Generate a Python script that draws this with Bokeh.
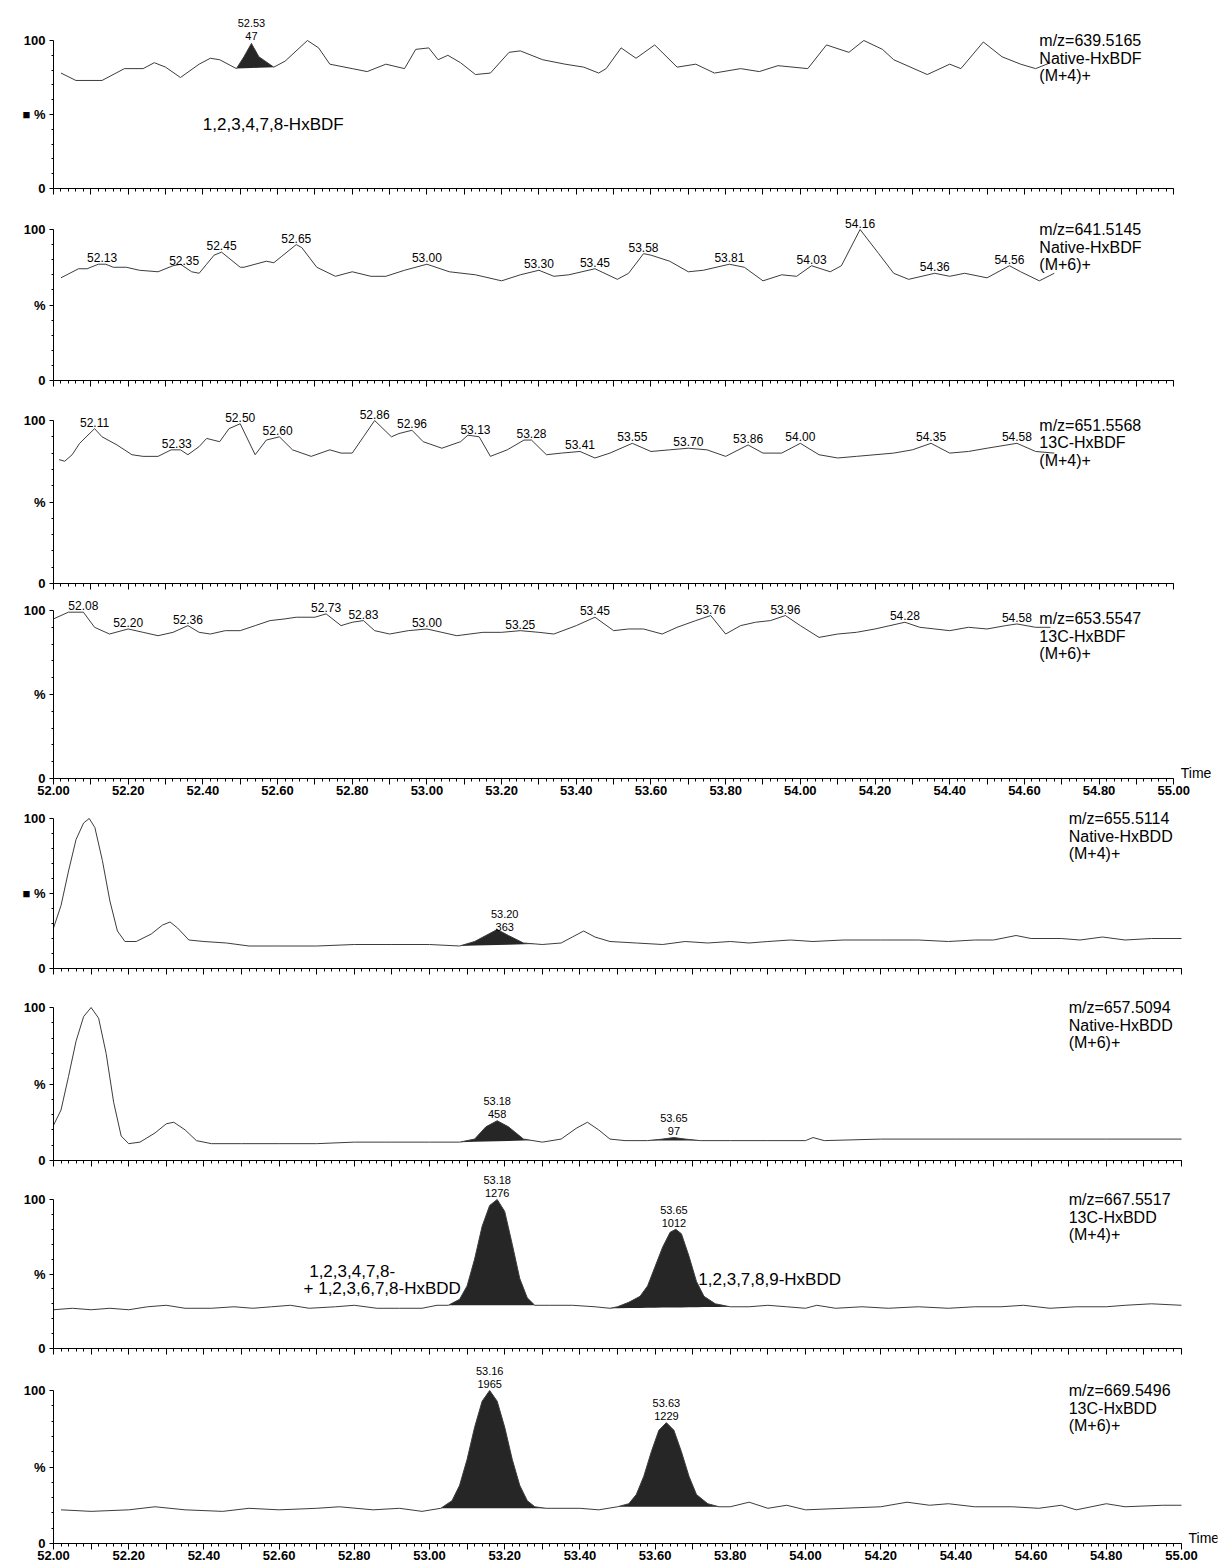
import numpy as np
from bokeh.plotting import figure
from bokeh.layouts import column
from bokeh.models import Range1d, FixedTicker, CustomJSTickFormatter
from bokeh.core.properties import value
from bokeh.embed import file_html
from bokeh.resources import INLINE

FONT = "Liberation Sans"

# ---------------- data ----------------
P1_t = [52.02, 52.06, 52.13, 52.19, 52.24, 52.27, 52.30, 52.34, 52.39, 52.42, 52.445, 52.49, 52.51, 52.53, 52.55, 52.59,
        52.62, 52.68, 52.71, 52.74, 52.80, 52.84, 52.89, 52.94, 52.97, 53.005, 53.03, 53.056, 53.09, 53.13, 53.17, 53.22,
        53.25, 53.31, 53.37, 53.42, 53.46, 53.48, 53.52, 53.56, 53.61, 53.67, 53.72, 53.77, 53.84, 53.89, 53.94, 54.02,
        54.07, 54.13, 54.17, 54.22, 54.25, 54.34, 54.40, 54.43, 54.49, 54.54, 54.59, 54.63, 54.67]
P1_v = [78, 73, 73, 81, 81, 85, 82, 75, 84, 88, 87, 81, 89, 98, 89, 82, 86, 100, 95, 84, 81, 79, 84, 81, 94, 95, 87, 90,
        85, 77, 78, 92, 93, 87, 84, 82, 78, 81, 95, 88, 97, 82, 84, 78, 81, 79, 83, 81, 97, 92, 100, 94, 87, 77, 84, 81,
        99, 89, 84, 81, 85]
P1_peaks = [52.53]
P1_areas = [47]

P2_t = [52.02, 52.067, 52.09, 52.12, 52.14, 52.16, 52.195, 52.23, 52.28, 52.32,
        52.34, 52.37, 52.39, 52.41, 52.43, 52.45, 52.50, 52.51, 52.57, 52.59,
        52.61, 52.65, 52.665, 52.705, 52.755, 52.80, 52.85, 52.89, 52.94, 53.00,
        53.06, 53.13, 53.20, 53.25, 53.30, 53.34, 53.38, 53.45, 53.51, 53.54,
        53.58, 53.60, 53.65, 53.70, 53.74, 53.81, 53.85, 53.90, 53.95, 53.99,
        54.03, 54.08, 54.11, 54.16, 54.21, 54.25, 54.29, 54.36, 54.40, 54.44,
        54.50, 54.56, 54.59, 54.64, 54.68]
P2_v = [68, 74, 74, 77, 77, 75, 75, 73, 72, 76,
        77, 72, 71, 77, 83, 85, 75, 75, 79, 78,
        82, 90, 88, 75, 69, 72, 69, 69, 73, 77,
        72, 70, 66, 70, 73, 69, 70, 74, 67, 71,
        84, 83, 79, 72, 73, 77, 75, 66, 70, 69,
        76, 72, 76, 100, 84, 71, 67, 71, 69, 71,
        68, 76, 72, 66, 71]
P2_peaks = [52.13, 52.35, 52.45, 52.65, 53.00, 53.30, 53.45, 53.58, 53.81, 54.03, 54.16, 54.36, 54.56]

P3_t = [52.015, 52.03, 52.05, 52.07, 52.11, 52.13, 52.17, 52.21, 52.24, 52.28,
        52.315, 52.34, 52.36, 52.39, 52.41, 52.445, 52.47, 52.50, 52.54, 52.57,
        52.605, 52.64, 52.69, 52.74, 52.77, 52.80, 52.83, 52.86, 52.905, 52.925,
        52.96, 52.99, 53.04, 53.09, 53.11, 53.14, 53.17, 53.215, 53.26, 53.28,
        53.32, 53.36, 53.41, 53.45, 53.49, 53.55, 53.60, 53.65, 53.70, 53.75,
        53.80, 53.86, 53.90, 53.95, 54.00, 54.05, 54.10, 54.15, 54.20, 54.25,
        54.30, 54.35, 54.40, 54.45, 54.50, 54.58, 54.63, 54.68]
P3_v = [76, 75, 79, 86, 95, 90, 85, 79, 78, 78,
        82, 82, 79, 84, 89, 87, 95, 98, 79, 88,
        90, 82, 78, 82, 80, 80, 90, 100, 90, 92,
        94, 87, 83, 87, 91, 90, 78, 82, 88, 88,
        79, 80, 81, 77, 80, 86, 81, 82, 83, 82,
        78, 85, 80, 80, 86, 79, 77, 78, 79, 80,
        82, 86, 80, 81, 83, 86, 81, 80]
P3_peaks = [52.11, 52.33, 52.50, 52.60, 52.86, 52.96, 53.13, 53.28, 53.41, 53.55, 53.70, 53.86, 54.00, 54.35, 54.58]

P4_t = [52.00, 52.04, 52.08, 52.11, 52.15, 52.20, 52.24, 52.28, 52.32, 52.36,
        52.39, 52.42, 52.46, 52.50, 52.54, 52.58, 52.62, 52.65, 52.70, 52.73,
        52.77, 52.80, 52.83, 52.86, 52.90, 52.95, 53.00, 53.04, 53.08, 53.15,
        53.20, 53.25, 53.30, 53.34, 53.40, 53.45, 53.50, 53.54, 53.58, 53.63,
        53.67, 53.72, 53.76, 53.80, 53.84, 53.88, 53.92, 53.96, 54.00, 54.05,
        54.10, 54.15, 54.20, 54.24, 54.28, 54.32, 54.36, 54.40, 54.45, 54.50,
        54.55, 54.58, 54.63, 54.67]
P4_v = [95, 99, 99, 90, 86, 89, 87, 85, 87, 91,
        87, 86, 88, 88, 91, 94, 95, 96, 96, 98,
        91, 93, 94, 88, 86, 88, 89, 87, 85, 87,
        87, 88, 87, 86, 91, 96, 88, 89, 89, 86,
        90, 94, 97, 86, 91, 93, 94, 97, 91, 84,
        86, 87, 89, 91, 93, 90, 89, 88, 90, 89,
        91, 92, 90, 90]
P4_peaks = [52.08, 52.20, 52.36, 52.73, 52.83, 53.00, 53.25, 53.45, 53.76, 53.96, 54.28, 54.58]

P5_t = [52.00, 52.02, 52.04, 52.06, 52.08, 52.095, 52.11, 52.13, 52.15, 52.17, 52.19, 52.22, 52.26, 52.29, 52.31,
        52.33, 52.36, 52.40, 52.46, 52.52, 52.60, 52.70, 52.80, 52.90, 53.00, 53.08, 53.12, 53.15, 53.18, 53.21,
        53.25, 53.30, 53.35, 53.38, 53.41, 53.44, 53.48, 53.55, 53.62, 53.68, 53.74, 53.80, 53.85, 53.90, 53.96,
        54.02, 54.10, 54.20, 54.30, 54.38, 54.45, 54.50, 54.56, 54.60, 54.68, 54.73, 54.79, 54.85, 54.92, 55.00]
P5_v = [27, 42, 65, 86, 97, 100, 94, 72, 45, 25, 18, 18, 23, 29, 31,
        27, 19, 18, 17, 15, 15, 15, 16, 16, 16, 15, 18, 22, 26, 22,
        17, 16, 17, 21, 25, 21, 18, 17, 16, 18, 17, 18, 17, 18, 19,
        18, 19, 19, 19, 18, 19, 19, 22, 20, 20, 19, 21, 19, 20, 20]
P5_peaks = [53.20]
P5_areas = [363]

P6_t = [52.00, 52.02, 52.04, 52.06, 52.08, 52.10, 52.12, 52.14, 52.16, 52.18,
        52.20, 52.23, 52.27, 52.30, 52.32, 52.35, 52.38, 52.42, 52.50, 52.60,
        52.70, 52.80, 52.90, 53.00, 53.08, 53.12, 53.15, 53.18, 53.21, 53.25,
        53.30, 53.35, 53.39, 53.42, 53.45, 53.48, 53.52, 53.58, 53.62, 53.65,
        53.68, 53.72, 53.80, 53.90, 54.00, 54.02, 54.05, 54.20, 54.40, 54.60,
        54.80, 55.00]
P6_v = [23, 33, 55, 78, 94, 100, 93, 70, 38, 16,
        11, 12, 18, 24, 25, 20, 13, 11, 11, 11,
        11, 12, 12, 12, 12, 14, 22, 26, 22, 14,
        12, 14, 21, 25, 20, 14, 13, 13, 14, 15,
        14, 13, 13, 13, 13, 15, 13, 14, 14, 14,
        14, 14]
P6_peaks = [53.18, 53.65]
P6_areas = [458, 97]

P7_t = [52.00, 52.05, 52.10, 52.15, 52.20, 52.25, 52.30, 52.35, 52.42, 52.48,
        52.53, 52.58, 52.63, 52.68, 52.75, 52.80, 52.86, 52.92, 52.98, 53.02,
        53.05, 53.08, 53.10, 53.12, 53.14, 53.16, 53.18, 53.20, 53.22, 53.24,
        53.26, 53.28, 53.32, 53.38, 53.44, 53.48, 53.50, 53.53, 53.56, 53.58,
        53.60, 53.62, 53.64, 53.655, 53.67, 53.69, 53.71, 53.73, 53.76, 53.80,
        53.85, 53.90, 53.95, 54.00, 54.03, 54.08, 54.15, 54.22, 54.30, 54.38,
        54.45, 54.52, 54.58, 54.65, 54.72, 54.80, 54.85, 54.92, 55.00]
P7_v = [26, 27, 26, 27, 26, 28, 29, 27, 27, 28,
        27, 28, 29, 27, 28, 29, 27, 27, 27, 29,
        29, 33, 42, 60, 82, 96, 100, 92, 70, 47,
        34, 29, 29, 29, 28, 27, 28, 31, 35, 42,
        55, 68, 78, 80, 77, 62, 45, 35, 30, 28,
        28, 29, 28, 27, 29, 27, 28, 27, 28, 27,
        28, 28, 29, 27, 28, 28, 29, 30, 29]
P7_peaks = [53.18, 53.65]
P7_areas = [1276, 1012]

P8_t = [52.02, 52.10, 52.20, 52.27, 52.35, 52.45, 52.52, 52.60, 52.70, 52.76,
        52.85, 52.92, 52.98, 53.03, 53.06, 53.08, 53.10, 53.12, 53.14, 53.16,
        53.18, 53.20, 53.22, 53.24, 53.26, 53.28, 53.31, 53.40, 53.45, 53.50,
        53.53, 53.55, 53.57, 53.59, 53.61, 53.63, 53.65, 53.67, 53.69, 53.71,
        53.74, 53.77, 53.80, 53.85, 53.90, 53.95, 54.00, 54.10, 54.20, 54.27,
        54.33, 54.38, 54.45, 54.55, 54.62, 54.68, 54.72, 54.80, 54.85, 54.95,
        55.00]
P8_v = [22, 21, 22, 24, 22, 21, 23, 22, 23, 24,
        22, 23, 21, 23, 28, 38, 55, 76, 93, 100,
        93, 76, 55, 38, 28, 24, 23, 23, 22, 24,
        26, 32, 44, 60, 74, 79, 74, 60, 44, 32,
        26, 24, 24, 27, 23, 25, 22, 23, 24, 27,
        25, 26, 24, 24, 23, 25, 22, 26, 24, 25,
        25]
P8_peaks = [53.16, 53.63]
P8_areas = [1965, 1229]

CHANNELS = [
    ["m/z=639.5165", "Native-HxBDF", "(M+4)+"],
    ["m/z=641.5145", "Native-HxBDF", "(M+6)+"],
    ["m/z=651.5568", "13C-HxBDF", "(M+4)+"],
    ["m/z=653.5547", "13C-HxBDF", "(M+6)+"],
    ["m/z=655.5114", "Native-HxBDD", "(M+4)+"],
    ["m/z=657.5094", "Native-HxBDD", "(M+6)+"],
    ["m/z=667.5517", "13C-HxBDD", "(M+4)+"],
    ["m/z=669.5496", "13C-HxBDD", "(M+6)+"],
]

# integrated (filled) peak windows
P1_fill = [(52.49, 52.59)]
P5_fill = [(53.08, 53.28)]
P6_fill = [(53.08, 53.27), (53.58, 53.72)]
P7_fill = [(53.05, 53.28), (53.48, 53.80)]
P8_fill = [(53.03, 53.31), (53.50, 53.77)]

# compound names
P1_names = [(52.40, 43, "1,2,3,4,7,8-HxBDF")]
P7_names = [(52.68, 52, "1,2,3,4,7,8-"), (52.665, 40, "+ 1,2,3,6,7,8-HxBDD"), (53.715, 46, "1,2,3,7,8,9-HxBDD")]

# ---------------- layout config ----------------
panels = [
    dict(t=P1_t, v=P1_v, peaks=[], two=(P1_peaks, P1_areas), fills=P1_fill, names=P1_names, grp=0,
         h=200, top=10, bot=12, ppu=1.48, xlab=False, pct="■ %", ly=100),
    dict(t=P2_t, v=P2_v, peaks=P2_peaks, two=None, fills=[], names=[], grp=0,
         h=192, top=5, bot=12, ppu=1.51, xlab=False, pct="%", ly=100),
    dict(t=P3_t, v=P3_v, peaks=P3_peaks, two=None, fills=[], names=[], grp=0,
         h=200, top=5, bot=9, ppu=1.63, xlab=False, pct="%", ly=97),
    dict(t=P4_t, v=P4_v, peaks=P4_peaks, two=None, fills=[], names=[], grp=0,
         h=210, top=2, bot=24, ppu=1.68, xlab=True, pct="%", ly=95),
    dict(t=P5_t, v=P5_v, peaks=[], two=(P5_peaks, P5_areas), fills=P5_fill, names=[], grp=1,
         h=173, top=3, bot=7, ppu=1.50, xlab=False, pct="■ %", ly=100),
    dict(t=P6_t, v=P6_v, peaks=[], two=(P6_peaks, P6_areas), fills=P6_fill, names=[], grp=1,
         h=192, top=5, bot=7, ppu=1.53, xlab=False, pct="%", ly=100),
    dict(t=P7_t, v=P7_v, peaks=[], two=(P7_peaks, P7_areas), fills=P7_fill, names=P7_names, grp=1,
         h=188, top=3, bot=7, ppu=1.49, xlab=False, pct="%", ly=100),
    dict(t=P8_t, v=P8_v, peaks=[], two=(P8_peaks, P8_areas), fills=P8_fill, names=[], grp=1,
         h=210, top=3, bot=22, ppu=1.53, xlab=True, pct="%", ly=100),
]

GROUP_LEFT = [46, 53]
GROUP_PPU = [1127 / 3.0, 1128 / 3.0]
LABEL_X = [54.64, 54.70]

major_ticks = list(np.round(np.arange(520, 551) / 10.0, 1))
minor_ticks = list(np.round(np.arange(2600, 2751) / 50.0, 2))

LINE_COLOR = "#3c3c3c"
FILL_COLOR = "#262626"


def build(i, cfg):
    left = GROUP_LEFT[cfg["grp"]]
    right = 1
    fw = 1218 - left - right
    x_end = 52 + fw / GROUP_PPU[cfg["grp"]]
    frame_h = cfg["h"] - cfg["top"] - cfg["bot"]
    ytop = frame_h / cfg["ppu"]
    p = figure(width=1218, height=cfg["h"], x_range=Range1d(52, x_end), y_range=Range1d(0, ytop),
               output_backend="svg", toolbar_location=None,
               min_border_left=left, min_border_right=right,
               min_border_top=cfg["top"], min_border_bottom=cfg["bot"])
    p.grid.visible = False
    p.outline_line_color = None
    p.background_fill_color = "white"
    p.border_fill_color = "white"

    # x axis
    xa = p.xaxis[0]
    xa.ticker = FixedTicker(ticks=major_ticks, minor_ticks=minor_ticks)
    xa.bounds = (52, 55)
    xa.axis_line_color = "black"
    xa.axis_line_width = 1
    xa.major_tick_out = 6
    xa.major_tick_in = 0
    xa.minor_tick_out = 3
    xa.minor_tick_in = 0
    xa.major_tick_line_color = "black"
    xa.minor_tick_line_color = "black"
    if cfg["xlab"]:
        xa.formatter = CustomJSTickFormatter(
            code="const k = Math.round(tick*10); return (k % 2 == 0) ? tick.toFixed(2) : '';")
        xa.major_label_text_font = FONT
        xa.major_label_text_font_size = "13px"
        xa.major_label_text_font_style = "bold"
        xa.major_label_text_color = "black"
        xa.major_label_standoff = 1
    else:
        xa.formatter = CustomJSTickFormatter(code="return '';")
        xa.major_label_text_font_size = "0px"
        xa.major_label_standoff = 0

    # y axis
    ya = p.yaxis[0]
    ya.ticker = FixedTicker(ticks=[0, 50, 100], minor_ticks=[10, 20, 30, 40, 60, 70, 80, 90])
    ya.bounds = (0, 100)
    ya.major_label_overrides = {0: "0", 50: cfg["pct"], 100: "100"}
    ya.axis_line_color = "black"
    ya.major_tick_out = 4
    ya.major_tick_in = 0
    ya.minor_tick_out = 2
    ya.minor_tick_in = 0
    ya.major_label_text_font = FONT
    ya.major_label_text_font_size = "13px"
    ya.major_label_text_font_style = "bold"
    ya.major_label_text_color = "black"
    ya.major_label_standoff = 4

    t = np.array(cfg["t"], dtype=float)
    v = np.array(cfg["v"], dtype=float)

    # filled, integrated peaks
    for (a, b) in cfg["fills"]:
        va, vb = np.interp(a, t, v), np.interp(b, t, v)
        inside = (t > a) & (t < b)
        xs = np.concatenate([[a], t[inside], [b]])
        ys = np.concatenate([[va], v[inside], [vb]])
        base = va + (vb - va) * (xs - a) / (b - a)
        p.varea(x=xs, y1=base, y2=ys, fill_color=FILL_COLOR)

    p.line(t, v, line_color=LINE_COLOR, line_width=1)

    # single-line peak labels
    if cfg["peaks"]:
        pk = np.array(cfg["peaks"])
        p.text(x=pk, y=np.interp(pk, t, v), text=[f"{x:.2f}" for x in pk],
               text_font=value(FONT), text_font_size="12px", text_align="center",
               text_baseline="bottom", y_offset=-2, text_color="black")

    # two-line peak labels (time / area)
    if cfg["two"]:
        pk = np.array(cfg["two"][0])
        ar = cfg["two"][1]
        yv = np.interp(pk, t, v)
        p.text(x=pk, y=yv, text=[str(a) for a in ar],
               text_font=value(FONT), text_font_size="11px", text_align="center",
               text_baseline="bottom", y_offset=-3, text_color="black")
        p.text(x=pk, y=yv, text=[f"{x:.2f}" for x in pk],
               text_font=value(FONT), text_font_size="11px", text_align="center",
               text_baseline="bottom", y_offset=-16, text_color="black")

    # compound names
    for (x, y, s) in cfg["names"]:
        p.text(x=[x], y=[y], text=[s], text_font=value(FONT), text_font_size="17px",
               text_align="left", text_baseline="middle", text_color="black")

    # channel description at right
    lines = CHANNELS[i]
    p.text(x=[LABEL_X[cfg["grp"]]] * 3, y=[cfg["ly"]] * 3, text=lines, y_offset=[0, 17.5, 35],
           text_font=value(FONT), text_font_size="16px", text_align="left",
           text_baseline="middle", text_color="black")

    if cfg["xlab"]:
        p.text(x=[55.0], y=[0], text=["Time"], x_offset=7, y_offset=2,
               text_font=value(FONT), text_font_size="14px", text_align="left",
               text_baseline="bottom", text_color="black")
    return p


figs = [build(i, c) for i, c in enumerate(panels)]
layout = column(*figs, spacing=0)
open("out.html", "w").write(file_html(layout, INLINE))
